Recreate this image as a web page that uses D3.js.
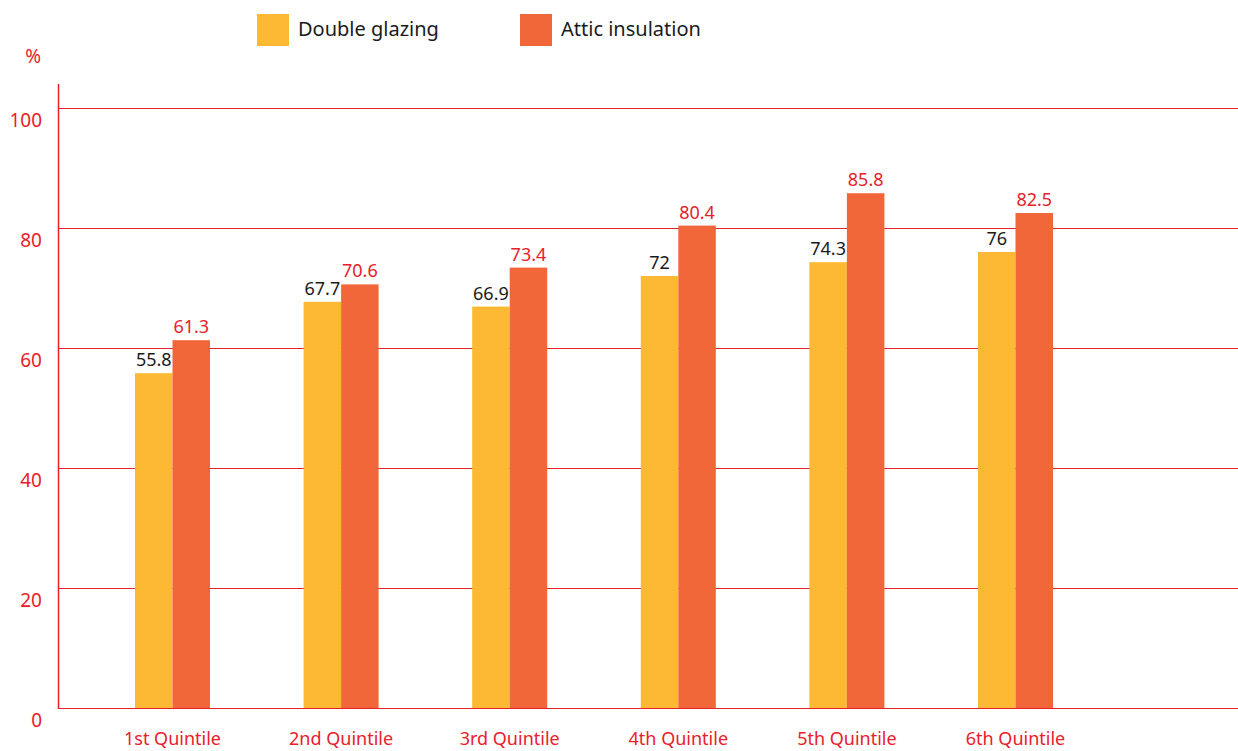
<!DOCTYPE html>
<html>
<head>
<meta charset="utf-8">
<script src="https://cdn.jsdelivr.net/npm/d3@7"></script>
<style>
  html, body { margin: 0; padding: 0; background: #fff; }
  svg { display: block; font-family: "Noto Sans", "Open Sans", sans-serif; }
</style>
</head>
<body>
<svg id="chart" width="1238" height="751"></svg>
<script>
// Share of households with each energy-saving measure, by income quintile (%)
const categories = ["1st Quintile", "2nd Quintile", "3rd Quintile", "4th Quintile", "5th Quintile", "6th Quintile"];
const seriesNames = ["Double glazing", "Attic insulation"];
const doubleGlazing = [55.8, 67.7, 66.9, 72, 74.3, 76];
const atticInsulation = [61.3, 70.6, 73.4, 80.4, 85.8, 82.5];
const yTicks = [0, 20, 40, 60, 80, 100];

const seriesValues = [doubleGlazing, atticInsulation];
const fills = ["#fdb933", "#f1673a"];
const labelColors = ["#1a1a1a", "#e8202a"];
const red = "#e8202a";

const svg = d3.select("#chart");
const W = 1238;

const y = d3.scaleLinear().domain([0, 100]).range([708, 108]);

const x0 = d3.scaleBand()
  .domain(categories)
  .range([88.2, 1099.8])
  .paddingInner(0.555)
  .paddingOuter(0.2775);

const x1 = d3.scaleBand()
  .domain(seriesNames)
  .range([0, x0.bandwidth()]);

const axisLeft = 58;

// horizontal gridlines
svg.append("g")
  .selectAll("line")
  .data(yTicks)
  .join("line")
  .attr("x1", axisLeft)
  .attr("x2", W)
  .attr("y1", d => Math.round(y(d)) + 0.5)
  .attr("y2", d => Math.round(y(d)) + 0.5)
  .attr("stroke", red)
  .attr("stroke-width", 1);

// y axis line
svg.append("line")
  .attr("x1", axisLeft + 0.5).attr("x2", axisLeft + 0.5)
  .attr("y1", Math.round(y(104)))
  .attr("y2", Math.round(y(0)) + 1)
  .attr("stroke", red)
  .attr("stroke-width", 1.5);

// y tick labels
svg.append("g")
  .selectAll("text")
  .data(yTicks)
  .join("text")
  .attr("x", 42)
  .attr("y", d => y(d) + 19)
  .attr("text-anchor", "end")
  .attr("fill", red)
  .attr("font-size", 19)
  .text(d => d);

svg.append("text")
  .attr("x", 41)
  .attr("y", 63)
  .attr("text-anchor", "end")
  .attr("fill", red)
  .attr("font-size", 19)
  .text("%");

// bars
const groups = svg.append("g")
  .selectAll("g")
  .data(categories)
  .join("g")
  .attr("transform", d => `translate(${x0(d)},0)`);

groups.selectAll("rect")
  .data((d, i) => seriesNames.map((s, k) => ({ s, k, v: seriesValues[k][i] })))
  .join("rect")
  .attr("x", d => x1(d.s))
  .attr("width", x1.bandwidth())
  .attr("y", d => y(d.v))
  .attr("height", d => y(0) - y(d.v))
  .attr("fill", d => fills[d.k]);

groups.selectAll("text")
  .data((d, i) => seriesNames.map((s, k) => ({ s, k, v: seriesValues[k][i] })))
  .join("text")
  .attr("x", d => x1(d.s) + x1.bandwidth() / 2)
  .attr("y", d => y(d.v) - 7)
  .attr("text-anchor", "middle")
  .attr("fill", d => labelColors[d.k])
  .attr("font-size", 18)
  .text(d => d.v);

// category labels
svg.append("g")
  .selectAll("text")
  .data(categories)
  .join("text")
  .attr("x", d => x0(d) + x0.bandwidth() / 2)
  .attr("y", 745)
  .attr("text-anchor", "middle")
  .attr("fill", red)
  .attr("font-size", 18)
  .text(d => d);

// legend
const legendX = [257, 520];
const legend = svg.append("g")
  .selectAll("g")
  .data(seriesNames)
  .join("g")
  .attr("transform", (d, i) => `translate(${legendX[i]},14)`);

legend.append("rect")
  .attr("width", 32)
  .attr("height", 32)
  .attr("fill", (d, i) => fills[i]);

legend.append("text")
  .attr("x", 41)
  .attr("y", 22)
  .attr("fill", "#1a1a1a")
  .attr("font-size", 20)
  .text(d => d);
</script>
</body>
</html>
